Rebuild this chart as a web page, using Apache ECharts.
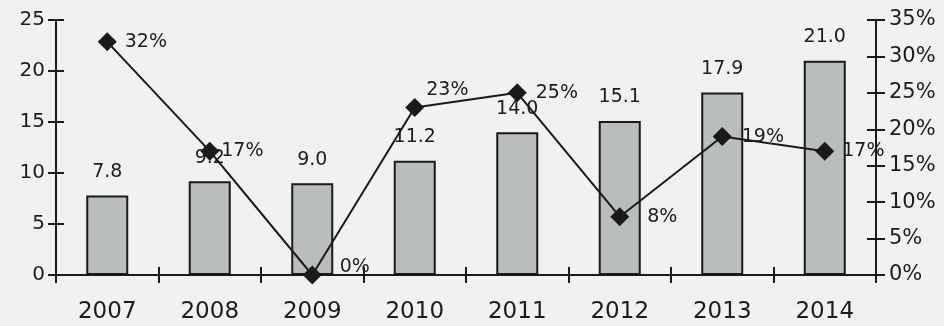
<!DOCTYPE html>
<html>
<head>
<meta charset="utf-8">
<script src="https://cdn.jsdelivr.net/npm/echarts@6/dist/echarts.min.js"></script>
<style>
html,body{margin:0;padding:0;background:#f1f2f0;}
#chart{width:944px;height:326px;}
</style>
</head>
<body>
<div id="chart"></div>
<script>
var categories = ['2007','2008','2009','2010','2011','2012','2013','2014'];
var barValues = [7.8, 9.2, 9.0, 11.2, 14.0, 15.1, 17.9, 21.0];
var barLabels = ['7.8','9.2','9.0','11.2','14.0','15.1','17.9','21.0'];
var growthValues = [32, 17, 0, 23, 25, 8, 19, 17];
var leftTicks = [0, 5, 10, 15, 20, 25];
var rightTicks = [0, 5, 10, 15, 20, 25, 30, 35];

var FONT = 'DejaVu Sans';
var TXT = '#1c1c1c';
var chart = echarts.init(document.getElementById('chart'));

var lineLabelAdjust = {
  0: {offset:[0,0]},
  1: {offset:[-6,0]},
  2: {offset:[10,-8]},
  3: {offset:[-6,-17]},
  4: {offset:[1,0]},
  5: {offset:[10,0]},
  6: {offset:[2,0]},
  7: {offset:[0,0]}
};

var lineData = growthValues.map(function(v, i){
  return {value: v, label: {offset: lineLabelAdjust[i].offset}};
});
var barData = barValues.map(function(v, i){
  return {value: v, label: {formatter: barLabels[i]}};
});

var axisLineStyle = {color:'#1a1a1a', width:2};

var option = {
  backgroundColor: '#f1f2f0',
  animation: false,
  grid: {left:56, right:68, top:20, bottom:51},
  xAxis: [
    {
      type:'category', data: categories, position:'bottom',
      axisLine:{show:true, lineStyle: axisLineStyle},
      axisTick:{show:true, inside:false, length:8, lineStyle:{color:'#1a1a1a', width:2}},
      axisLabel:{fontFamily:FONT, fontSize:23, color:TXT, margin:26},
      splitLine:{show:false}
    },
    {
      type:'category', data: categories, position:'bottom',
      axisLine:{show:false},
      axisTick:{show:true, inside:true, length:8, lineStyle:{color:'#1a1a1a', width:2}},
      axisLabel:{show:false},
      splitLine:{show:false}
    }
  ],
  yAxis: [
    {
      type:'value', min:0, max:25, interval:5, position:'left',
      axisLine:{show:true, lineStyle: axisLineStyle},
      axisTick:{show:true, inside:false, length:8, lineStyle:{color:'#1a1a1a', width:2}},
      axisLabel:{fontFamily:FONT, fontSize:20, color:TXT, margin:11,
        formatter:function(v){ return leftTicks.indexOf(v) >= 0 ? String(v) : ''; }},
      splitLine:{show:false}
    },
    {
      type:'value', min:0, max:35, interval:5, position:'right',
      axisLine:{show:true, lineStyle: axisLineStyle},
      axisTick:{show:true, inside:false, length:9, lineStyle:{color:'#1a1a1a', width:2}},
      axisLabel:{fontFamily:FONT, fontSize:21, color:TXT, margin:13,
        formatter:function(v){ return rightTicks.indexOf(v) >= 0 ? v + '%' : ''; }},
      splitLine:{show:false}
    },
    {
      type:'value', min:0, max:25, interval:5, position:'left',
      axisLine:{show:false},
      axisTick:{show:true, inside:true, length:8, lineStyle:{color:'#1a1a1a', width:2}},
      axisLabel:{show:false},
      splitLine:{show:false}
    },
    {
      type:'value', min:0, max:35, interval:5, position:'right',
      axisLine:{show:false},
      axisTick:{show:true, inside:true, length:9, lineStyle:{color:'#1a1a1a', width:2}},
      axisLabel:{show:false},
      splitLine:{show:false}
    }
  ],
  series: [
    {
      type:'bar', xAxisIndex:0, yAxisIndex:0, data: barData, barWidth:42,
      itemStyle:{color:'#b9bdbd', borderColor:'#1a1a1a', borderWidth:2},
      label:{show:true, position:'top', distance:14, fontFamily:FONT, fontSize:19, color:TXT}
    },
    {
      type:'line', xAxisIndex:0, yAxisIndex:1, data: lineData,
      symbol:'diamond', symbolSize:19,
      lineStyle:{color:'#1a1a1a', width:2},
      itemStyle:{color:'#1a1a1a'},
      label:{show:true, position:'right', distance:8, fontFamily:FONT, fontSize:19, color:TXT,
        formatter:function(p){ return p.value + '%'; }},
      z:5
    }
  ]
};
chart.setOption(option);
</script>
</body>
</html>
